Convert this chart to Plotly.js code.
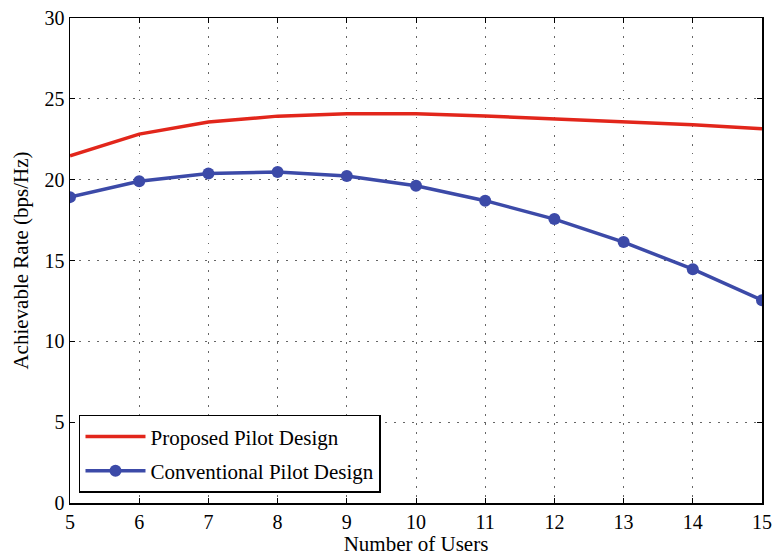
<!DOCTYPE html>
<html><head><meta charset="utf-8">
<script src="https://cdn.plot.ly/plotly-3.0.1.min.js"></script>
<style>body{margin:0;background:#fff}#c{width:772px;height:557px}</style>
</head><body><div id="c"></div>
<script>
const users = [5, 6, 7, 8, 9, 10, 11, 12, 13, 14, 15];
const proposed = [21.48, 22.82, 23.56, 23.93, 24.07, 24.07, 23.94, 23.76, 23.58, 23.39, 23.15];
const conventional = [18.92, 19.9, 20.38, 20.48, 20.22, 19.62, 18.7, 17.56, 16.14, 14.46, 12.54];
const xTicks = [5, 6, 7, 8, 9, 10, 11, 12, 13, 14, 15];
const yTicks = [0, 5, 10, 15, 20, 25, 30];

const font = {family: 'Liberation Serif, Times New Roman, serif', color: '#000'};
const traces = [
  {x: users, y: proposed, mode: 'lines', name: 'Proposed Pilot Design', legendgroup: 'a',
   line: {color: '#e2261b', width: 3.5}},
  {x: users, y: conventional, mode: 'lines+markers', name: 'Conventional Pilot Design', legendgroup: 'b',
   line: {color: '#3c4aa8', width: 3.5}, marker: {color: '#3c4aa8', size: 12}}
];
const axisCommon = {
  showline: true, linecolor: '#000', linewidth: 1.5, mirror: 'ticks',
  ticks: 'inside', ticklen: 5, tickcolor: '#000',
  showgrid: true, gridcolor: '#666', griddash: '1.5px,7.5px', gridwidth: 1,
  zeroline: false, tickfont: Object.assign({size: 20}, font)
};
const layout = {
  width: 772, height: 557,
  margin: {l: 70, r: 10, t: 18, b: 54},
  paper_bgcolor: '#fff', plot_bgcolor: '#fff',
  font: font,
  showlegend: true,
  xaxis: Object.assign({}, axisCommon, {range: [5, 15], tickvals: xTicks,
    title: {text: 'Number of Users', font: Object.assign({size: 21}, font), standoff: 3}}),
  yaxis: Object.assign({}, axisCommon, {range: [0, 30], tickvals: yTicks,
    title: {text: 'Achievable Rate (bps/Hz)', font: Object.assign({size: 21}, font), standoff: 10}}),
  legend: {x: 0.013, y: 0.021, xanchor: 'left', yanchor: 'bottom',
    bgcolor: '#fff', bordercolor: '#000', borderwidth: 1.5,
    font: Object.assign({size: 21}, font), itemwidth: 60, tracegroupgap: 4}
};
Plotly.newPlot('c', traces, layout, {displayModeBar: false, staticPlot: true});
</script></body></html>
